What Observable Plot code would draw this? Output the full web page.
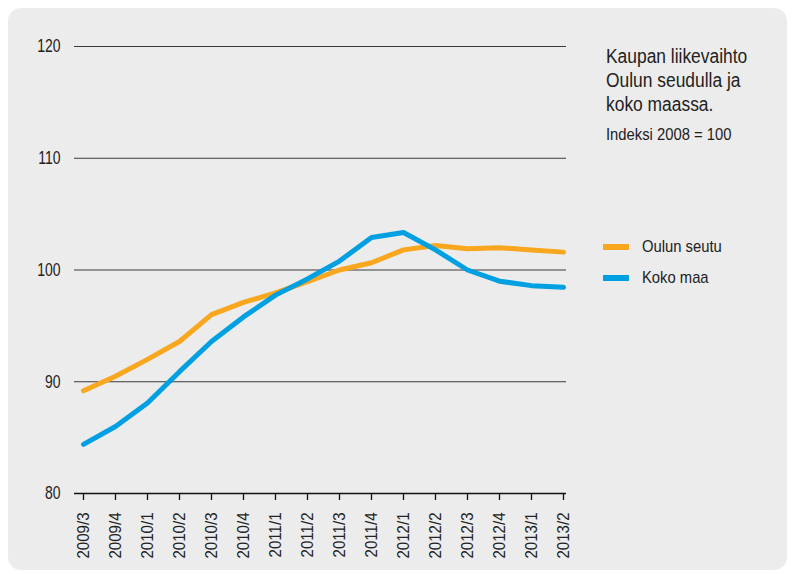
<!DOCTYPE html>
<html><head><meta charset="utf-8">
<script src="https://cdn.jsdelivr.net/npm/d3@7"></script>
<script src="https://cdn.jsdelivr.net/npm/@observablehq/plot@0.6"></script>
<style>
body{margin:0;background:#fff;}
#wrap{position:relative;width:792px;height:574px;overflow:hidden;font-family:"Liberation Sans",Arial,sans-serif;color:#222;}
#panel{position:absolute;left:8px;top:8px;width:779px;height:562px;background:#ececec;border-radius:13px;}
#chart{position:absolute;left:0;top:0;}
.sq{position:absolute;white-space:nowrap;transform-origin:0 0;}
#title{left:606px;top:44px;font-size:20px;line-height:24px;transform:scaleX(0.87);}
#sub{left:606px;top:125px;font-size:17px;line-height:20px;transform:scaleX(0.87);}
.leg{position:absolute;left:603px;font-size:17px;line-height:20px;}
.leg span.sw{position:absolute;left:0;top:9px;width:26px;height:6px;}
.leg span.tx{position:absolute;left:39px;top:2px;white-space:nowrap;transform:scaleX(0.87);transform-origin:0 0;}
</style></head>
<body>
<div id="wrap">
  <div id="panel"></div>
  <div id="chart"></div>
  <div id="title" class="sq">Kaupan liikevaihto<br>Oulun seudulla ja<br>koko maassa.</div>
  <div id="sub" class="sq">Indeksi 2008 = 100</div>
  <div id="legend"></div>
</div>
<script>
const periods = ["2009/3","2009/4","2010/1","2010/2","2010/3","2010/4","2011/1","2011/2","2011/3","2011/4","2012/1","2012/2","2012/3","2012/4","2013/1","2013/2"];
const oulunSeutu = [89.2, 90.5, 92.0, 93.6, 96.0, 97.1, 97.95, 98.95, 100.0, 100.65, 101.8, 102.2, 101.9, 102.0, 101.8, 101.6];
const kokoMaa = [84.4, 86.0, 88.1, 90.9, 93.6, 95.8, 97.75, 99.2, 100.8, 102.9, 103.35, 101.8, 100.0, 99.0, 98.6, 98.45];
const seriesNames = ["Oulun seutu", "Koko maa"];
const seriesColors = ["#f8a71e", "#00a0e2"];
const yTicks = [80, 90, 100, 110, 120];

const rows = [];
[oulunSeutu, kokoMaa].forEach((vals, i) => {
  vals.forEach((v, j) => rows.push({period: periods[j], value: v, series: seriesNames[i]}));
});

const chart = Plot.plot({
  width: 792,
  height: 574,
  marginLeft: 74,
  marginRight: 226,
  marginTop: 46,
  marginBottom: 81,
  style: {background: "transparent", fontFamily: '"Liberation Sans",Arial,sans-serif', color: "#222"},
  x: {type: "point", domain: periods, range: [83, 563], padding: 0},
  y: {domain: [80, 120]},
  color: {domain: seriesNames, range: seriesColors},
  marks: [
    Plot.ruleY(yTicks.slice(1), {stroke: "#3a3a3a", strokeWidth: 1.1}),
    Plot.axisY({ticks: yTicks, tickSize: 0, tickPadding: 14, fontSize: 18.5, label: null}),
    Plot.axisX({tickSize: 7, tickPadding: 12, tickRotate: -90, fontSize: 17, label: null, stroke: "#111", strokeWidth: 1.3}),
    Plot.ruleY([80], {stroke: "#111", strokeWidth: 1.5}),
    Plot.lineY(rows, {x: "period", y: "value", stroke: "series", strokeWidth: 5, strokeLinejoin: "miter", strokeLinecap: "round"})
  ]
});
document.getElementById("chart").appendChild(chart);

// condense axis label glyphs horizontally (narrow typeface look)
function condense(selector, k) {
  chart.querySelectorAll(selector).forEach(t => {
    const L = t.getComputedTextLength();
    t.setAttribute("textLength", (L * k).toFixed(2));
    t.setAttribute("lengthAdjust", "spacingAndGlyphs");
  });
}
condense('[aria-label="y-axis tick label"] text', 0.755);
condense('[aria-label="x-axis tick label"] text', 0.885);

const legend = document.getElementById("legend");
seriesNames.forEach((name, i) => {
  const d = document.createElement("div");
  d.className = "leg";
  d.style.top = (235 + i * 31) + "px";
  d.innerHTML = `<span class="sw" style="background:${seriesColors[i]}"></span><span class="tx">${name}</span>`;
  legend.appendChild(d);
});
</script>
</body></html>
